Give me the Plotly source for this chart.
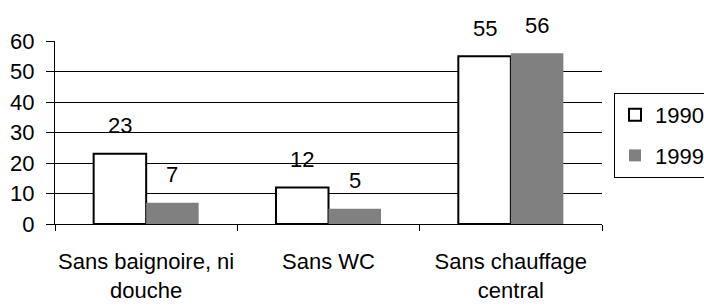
import plotly.graph_objects as go

categories = ["Sans baignoire, ni<br>douche", "Sans WC", "Sans chauffage<br>central"]
series_names = ["1990", "1999"]
values_1990 = [23, 12, 55]
values_1999 = [7, 5, 56]
y_ticks = [0, 10, 20, 30, 40, 50, 60]

FONT = "Liberation Sans, Arial, sans-serif"

L, R, T, B = 55, 102, 41, 83
W, H = 704, 307
plot_w = W - L - R
plot_h = H - T - B
bargap = 0.424
cat_w = plot_w / len(categories)
bar_w = cat_w * (1 - bargap) / 2

fig = go.Figure()
fig.add_trace(go.Bar(
    name=series_names[0], x=categories, y=values_1990,
    marker=dict(color="white", line=dict(color="black", width=2)),
    legendgroup="a",
))
fig.add_trace(go.Bar(
    name=series_names[1], x=categories, y=values_1999,
    marker=dict(color="#808080", line=dict(color="#808080", width=0)),
    legendgroup="b",
))

annotations = []
for vals, shift in ((values_1990, -bar_w / 2), (values_1999, bar_w / 2)):
    for c, v in zip(categories, vals):
        annotations.append(dict(
            x=c, y=v, xref="x", yref="y", text=str(v), showarrow=False,
            xshift=shift, yshift=28, yanchor="middle",
            font=dict(family=FONT, size=22, color="black"),
        ))

fig.update_layout(
    width=W, height=H,
    margin=dict(l=L, r=R, t=T, b=B, autoexpand=False),
    paper_bgcolor="white", plot_bgcolor="white",
    font=dict(family=FONT, size=22, color="black"),
    barmode="group", bargap=bargap, bargroupgap=0,
    showlegend=True,
    legend=dict(
        x=(614 - L) / plot_w, xanchor="left",
        y=(H - B - 93) / plot_h, yanchor="top",
        bordercolor="black", borderwidth=1, bgcolor="white",
        font=dict(family=FONT, size=22, color="black"),
        tracegroupgap=9, traceorder="grouped",
    ),
    annotations=annotations,
)
fig.update_xaxes(
    showline=True, linecolor="black", linewidth=1,
    ticks="outside", tickson="boundaries", ticklen=6, tickcolor="black",
    showgrid=False, ticklabelstandoff=18, tickangle=0, automargin=False,
)
fig.update_yaxes(
    range=[0, 60], tickvals=y_ticks,
    showline=True, linecolor="black", linewidth=1,
    ticks="outside", ticklen=8, tickcolor="black",
    showgrid=True, gridcolor="black", gridwidth=1, zeroline=False,
    ticklabelstandoff=7, automargin=False,
)

fig.write_html(
    "out.html",
    config={"displayModeBar": False},
    post_script="document.body.style.margin='0';",
)
